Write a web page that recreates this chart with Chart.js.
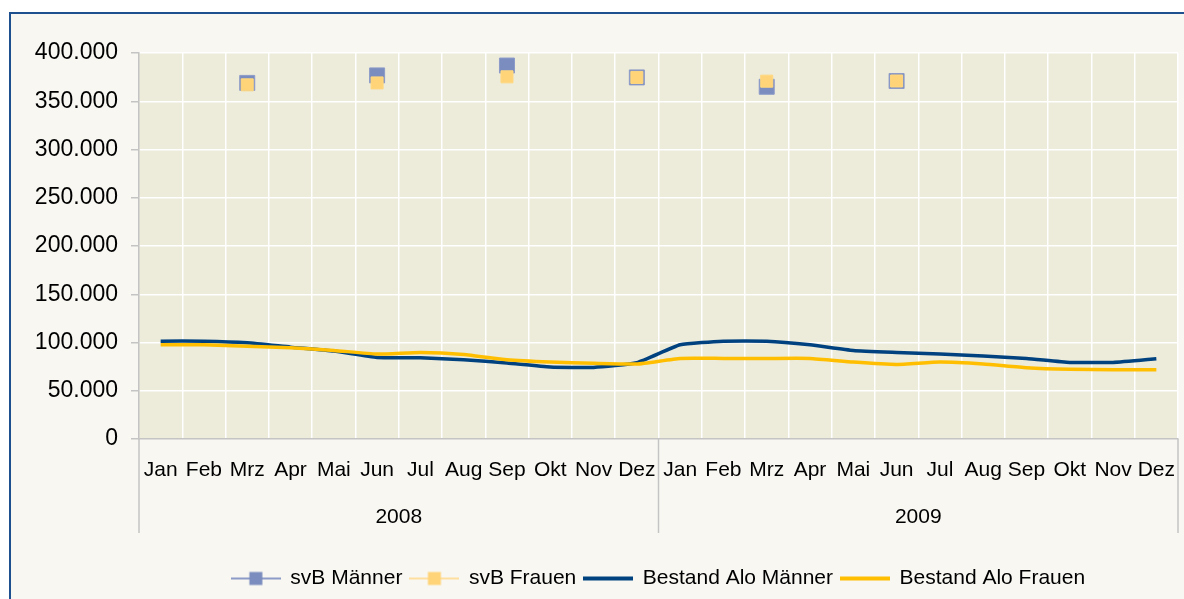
<!DOCTYPE html>
<html><head><meta charset="utf-8">
<script src="https://cdn.jsdelivr.net/npm/chart.js@4"></script>
<style>
html,body{margin:0;padding:0;background:#fff;overflow:hidden;}
#frame{position:absolute;left:9px;top:12px;width:1180px;height:600px;background:#F8F7F2;border-top:2px solid #1E4F8E;border-left:2px solid #1E4F8E;}
#wrap{position:absolute;left:0;top:0;width:1184px;height:599px;}
</style></head><body>
<div id="frame"></div>
<div id="wrap"><canvas id="c"></canvas></div>
<script>
const months = ['Jan','Feb','Mrz','Apr','Mai','Jun','Jul','Aug','Sep','Okt','Nov','Dez',
                'Jan','Feb','Mrz','Apr','Mai','Jun','Jul','Aug','Sep','Okt','Nov','Dez'];
const years = ['2008','2009'];
const yTicks = [0,50000,100000,150000,200000,250000,300000,350000,400000];
const svbMaenner = [null,null,369000,null,null,376800,null,null,387000,null,null,374700,
                    null,null,365000,null,null,371000,null,null,null,null,null,null];
const svbFrauen  = [null,null,367000,null,null,369000,null,null,375300,null,null,374700,
                    null,null,370800,null,null,371000,null,null,null,null,null,null];
const aloMaenner = [101400,101400,99700,95200,91100,84500,84200,82100,78700,74600,74200,79000,
                    97600,101400,101400,97600,91800,89700,88000,85900,83500,79400,79400,83200];
const aloFrauen  = [97600,97600,96200,94500,91800,88000,89700,87600,82100,79700,78400,77700,
                    83500,83500,83500,83500,79700,77300,79700,77700,73900,72200,71800,71800];
const seriesNames = ['svB Männer','svB Frauen','Bestand Alo Männer','Bestand Alo Frauen'];

const FONT = "'Liberation Sans', Arial, sans-serif";
const fmt = v => String(v).replace(/\B(?=(\d{3})+(?!\d))/g, '.');

function legendIcon(lineColor, lineW, sq, sqColor){
  const c = document.createElement('canvas');
  c.width = 50; c.height = 16;
  const x = c.getContext('2d');
  x.fillStyle = lineColor;
  x.fillRect(0, 8 - lineW/2, 50, lineW);
  if (sq){ x.fillStyle = sqColor; x.fillRect(25 - sq/2, 8 - sq/2, sq, sq); }
  return c;
}
const icons = [
  legendIcon('#8C9BC8', 2, 13, '#7B8CBE'),
  legendIcon('#FFDFA0', 2, 13, '#FFD478'),
  legendIcon('#00427F', 4, 0),
  legendIcon('#FFBF00', 4, 0)
];

const bgPlugin = {
  id: 'bg',
  afterLayout(chart){
    const a = chart.chartArea, lg = chart.legend;
    if (lg){ lg.left = a.left; lg.right = a.right; }
  },
  beforeDraw(chart){
    const {ctx, chartArea:a} = chart;
    ctx.save();
    ctx.fillStyle = '#EDEBDA';
    ctx.fillRect(a.left, a.top, a.right - a.left, a.bottom - a.top);
    ctx.restore();
  },
  afterDraw(chart){
    const {ctx, chartArea:a} = chart;
    const xs = chart.scales.x;
    const mid = (xs.getPixelForValue(11) + xs.getPixelForValue(12)) / 2;
    ctx.save();
    ctx.strokeStyle = '#C4C4C4';
    ctx.lineWidth = 1.5;
    [a.left, mid, a.right].forEach(px => {
      ctx.beginPath(); ctx.moveTo(px, a.bottom); ctx.lineTo(px, 533); ctx.stroke();
    });
    ctx.restore();
  }
};

new Chart(document.getElementById('c'), {
  type: 'line',
  data: {
    labels: months,
    datasets: [
      { label: seriesNames[0], data: svbMaenner, showLine: false, order: 1,
        pointStyle: 'rect', pointRadius: 10.6, backgroundColor: '#7B8CBE', borderColor: '#8C9BC8', pointBorderWidth: 1 },
      { label: seriesNames[1], data: svbFrauen, showLine: false, order: 0,
        pointStyle: 'rect', pointRadius: 8.5, backgroundColor: '#FFD478', borderColor: '#FFD87F', pointBorderWidth: 1 },
      { label: seriesNames[2], data: aloMaenner, order: 3, borderColor: '#00427F', backgroundColor: '#00427F',
        borderWidth: 3.5, pointRadius: 0, tension: 0.15 },
      { label: seriesNames[3], data: aloFrauen, order: 2, borderColor: '#FFBF00', backgroundColor: '#FFBF00',
        borderWidth: 3.5, pointRadius: 0, tension: 0.15 }
    ]
  },
  options: {
    responsive: true, maintainAspectRatio: false, animation: false, events: [],
    layout: { autoPadding: false, padding: { top: 53, right: 6, left: 0, bottom: 0 } },
    scales: {
      x: {
        type: 'category', offset: true,
        grid: { offset: true, color: c => c.index === 0 ? 'rgba(0,0,0,0)' : '#FFFFFF', lineWidth: 1.5,
                drawTicks: true, tickLength: 39, tickColor: 'rgba(0,0,0,0)' },
        border: { color: '#C4C4C4', width: 1.5 },
        ticks: { font: { family: FONT, size: 21 }, color: '#000', padding: -20, maxRotation: 0, minRotation: 0, autoSkip: false },
        afterFit(s){ s.height = 56; s.paddingRight = 0; s.paddingLeft = 0; }
      },
      x2: {
        type: 'category', labels: years, offset: true, position: 'bottom',
        grid: { display: false, drawTicks: false }, border: { display: false },
        ticks: { font: { family: FONT, size: 21 }, color: '#000', padding: 10, maxRotation: 0 },
        afterFit(s){ s.height = 65; s.paddingRight = 0; s.paddingLeft = 0; }
      },
      y: {
        min: 0, max: 400000,
        afterBuildTicks(s){ s.ticks = yTicks.map(v => ({ value: v })); },
        grid: { color: c => (c.tick && c.tick.value === 0) ? 'rgba(0,0,0,0)' : '#FFFFFF', lineWidth: 1.5,
                tickColor: '#C4C4C4', tickLength: 8 },
        border: { color: '#C4C4C4', width: 1.5 },
        ticks: { font: { family: FONT, size: 23 }, color: '#000', padding: 13, callback: v => fmt(v) },
        afterFit(s){ s.width = 139; }
      }
    },
    plugins: {
      tooltip: { enabled: false },
      legend: {
        position: 'bottom',
        labels: {
          usePointStyle: true, pointStyleWidth: 48, padding: 8,
          font: { family: FONT, size: 21 }, color: '#000',
          generateLabels(chart){
            const items = Chart.defaults.plugins.legend.labels.generateLabels(chart);
            items.sort((a,b) => a.datasetIndex - b.datasetIndex);
            items.forEach(it => { it.pointStyle = icons[it.datasetIndex]; it.rotation = 0; it.lineWidth = 0; });
            return items;
          }
        }
      }
    }
  },
  plugins: [bgPlugin]
});
</script>
</body></html>
